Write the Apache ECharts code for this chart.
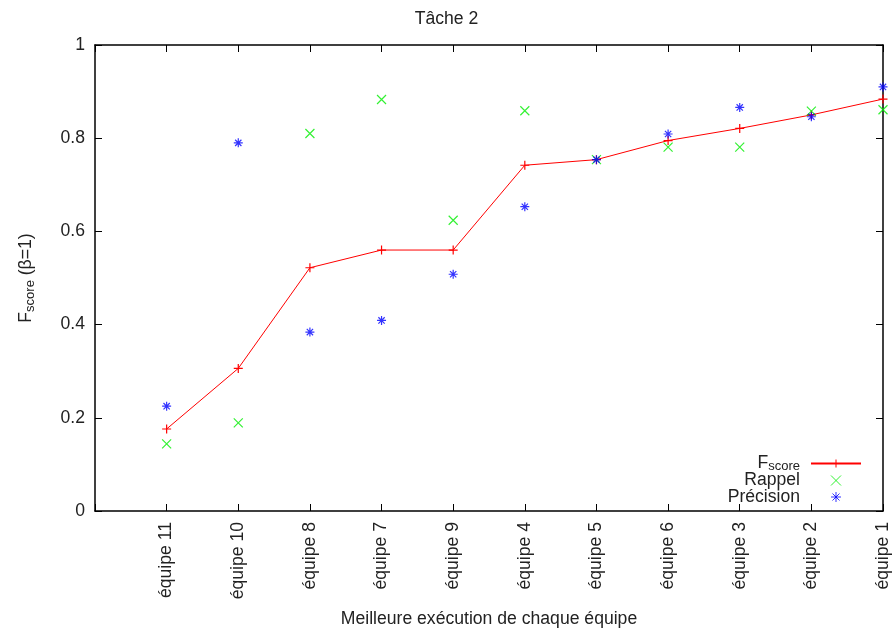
<!DOCTYPE html>
<html>
<head>
<meta charset="utf-8">
<script src="https://cdn.jsdelivr.net/npm/echarts@6/dist/echarts.min.js"></script>
<style>html,body{margin:0;padding:0;background:#fff;}#c{width:893px;height:633px;}</style>
</head>
<body>
<div id="c"></div>
<script>
var categories = ['équipe 11','équipe 10','équipe 8','équipe 7','équipe 9','équipe 4','équipe 5','équipe 6','équipe 3','équipe 2','équipe 1'];
var fscore   = [0.176,0.306,0.522,0.560,0.560,0.742,0.754,0.795,0.821,0.850,0.884];
var rappel   = [0.144,0.189,0.810,0.883,0.624,0.859,0.754,0.781,0.781,0.858,0.861];
var precision= [0.225,0.790,0.384,0.409,0.508,0.653,0.754,0.809,0.866,0.846,0.910];
var yTicks = [0, 0.2, 0.4, 0.6, 0.8, 1];

function pts(arr){ return arr.map(function(v,i){ return [i+1, v]; }); }

var FONT = '"Liberation Sans", Arial, sans-serif';
var FS = 17.6;
var plus = 'path://M0,5 L10,5 M5,0 L5,10';
var cross = 'path://M0,0 L10,10 M10,0 L0,10';
var star = 'path://M0,5 L10,5 M5,0 L5,10 M1.5,1.5 L8.5,8.5 M8.5,1.5 L1.5,8.5';

function tick(){ return {show:true, inside:true, length:7, lineStyle:{color:'#000', width:1}}; }
function axLine(){ return {show:true, onZero:false, lineStyle:{color:'#000', width:1.5}}; }

var chart = echarts.init(document.getElementById('c'), null, {renderer:'canvas'});
chart.setOption({
  animation:false,
  backgroundColor:'#fff',
  textStyle:{fontFamily:FONT},
  title:{text:'Tâche 2', left:'center', top:5, textStyle:{fontFamily:FONT, fontSize:FS, fontWeight:'normal', color:'#222'}},
  grid:{left:95, right:10, top:45, bottom:120, containLabel:false},
  legend:{
    orient:'vertical', align:'right', right:26, top:449,
    itemWidth:50, itemHeight:10, itemGap:-1.5,
    itemStyle:{borderWidth:1},
    data:['Fscore','Rappel','Précision'],
    formatter:function(n){ return n==='Fscore' ? '{a|F}{b|score}' : '{c|'+n+'}'; },
    textStyle:{fontFamily:FONT, fontSize:FS, color:'#222',
      rich:{a:{fontFamily:FONT, fontSize:FS, color:'#222', lineHeight:16},
            b:{fontFamily:FONT, fontSize:13, color:'#222', padding:[6,6,0,0], lineHeight:16},
            c:{fontFamily:FONT, fontSize:FS, color:'#222', padding:[0,6,0,0], lineHeight:16}}}
  },
  xAxis:[{
    type:'value', min:0, max:categories.length, interval:1, position:'bottom',
    name:'Meilleure exécution de chaque équipe', nameLocation:'middle', nameGap:99,
    nameTextStyle:{fontFamily:FONT, fontSize:FS, color:'#222'},
    axisLine:axLine(), axisTick:tick(), splitLine:{show:false},
    axisLabel:{rotate:90, margin:11, fontFamily:FONT, fontSize:FS, color:'#222',
      formatter:function(v){ var i=Math.round(v)-1; return (i>=0 && i<categories.length) ? categories[i] : ''; }}
  },{
    type:'value', min:0, max:categories.length, interval:1, position:'top',
    axisLine:axLine(), axisTick:tick(), axisLabel:{show:false}, splitLine:{show:false}
  }],
  yAxis:[{
    type:'value', min:yTicks[0], max:yTicks[yTicks.length-1], interval:0.2, position:'left',
    name:'{a|F}{b|score}{a| (β=1)}', nameLocation:'middle', nameGap:58,
    nameTextStyle:{fontFamily:FONT, fontSize:FS, color:'#222',
      rich:{a:{fontFamily:FONT, fontSize:FS, color:'#222'}, b:{fontFamily:FONT, fontSize:13, color:'#222', padding:[8,0,0,0]}}},
    axisLine:axLine(), axisTick:tick(), splitLine:{show:false},
    axisLabel:{margin:10, fontFamily:FONT, fontSize:FS, color:'#222',
      formatter:function(v){ return String(+v.toFixed(1)); }}
  },{
    type:'value', min:yTicks[0], max:yTicks[yTicks.length-1], interval:0.2, position:'right',
    axisLine:axLine(), axisTick:tick(), axisLabel:{show:false}, splitLine:{show:false}
  }],
  series:[{
    name:'Fscore', type:'line', data:pts(fscore), clip:false,
    symbol:plus, symbolSize:9, symbolKeepAspect:true, showAllSymbol:true,
    lineStyle:{color:'#ff0000', width:1}, color:'#ff0000',
    itemStyle:{color:'#ff0000', borderColor:'#ff0000', borderWidth:1.2}, z:3
  },{
    name:'Rappel', type:'scatter', data:pts(rappel), clip:false,
    symbol:cross, symbolSize:9, symbolKeepAspect:true, color:'#00ee00',
    itemStyle:{color:'#00ee00', borderColor:'#00ee00', borderWidth:1.2}, z:4
  },{
    name:'Précision', type:'scatter', data:pts(precision), clip:false,
    symbol:star, symbolSize:9, symbolKeepAspect:true, color:'#0000ff',
    itemStyle:{color:'#0000ff', borderColor:'#0000ff', borderWidth:1.2}, z:5
  }]
});
</script>
</body>
</html>
